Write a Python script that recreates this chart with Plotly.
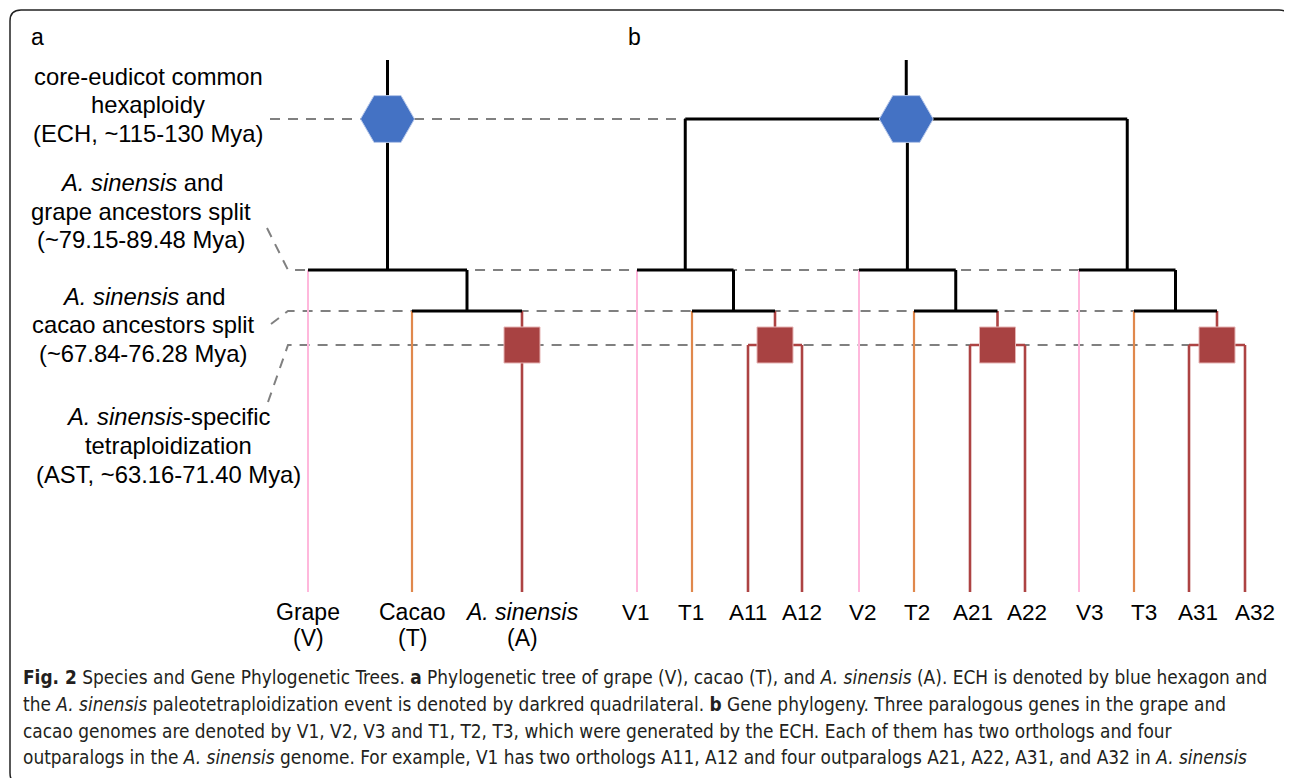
import plotly.graph_objects as go

# ---------------- data ----------------
# panel a: species leaves (x positions in layout px) and names
species_names = ["Grape", "Cacao", "<i>A. sinensis</i>"]
species_codes = ["(V)", "(T)", "(A)"]
species_x = [308, 412, 522]

# panel b: gene leaves
gene_names = ["V1", "T1", "A11", "A12", "V2", "T2", "A21", "A22", "V3", "T3", "A31", "A32"]
gene_x = [637, 692, 748, 802, 859, 914, 970, 1025, 1079, 1134, 1189, 1245]
gene_label_x = [636, 691, 748, 802, 863, 917, 973, 1027, 1090, 1144, 1198, 1255]

# event levels (vertical layout positions)
level_top = 60
level_ech = 119
level_split_grape = 270
level_split_cacao = 311
level_ast = 345
level_leaf = 592
level_leaf_label = 612

# event label texts (panel a, left side)
event_labels = [
    ["core-eudicot common", "hexaploidy", "(ECH, ~115-130 Mya)"],
    ["<i>A. sinensis</i> and", "grape ancestors split", "(~79.15-89.48 Mya)"],
    ["<i>A. sinensis</i> and", "cacao ancestors split", "(~67.84-76.28 Mya)"],
    ["<i>A. sinensis</i>-specific", "tetraploidization", "(AST, ~63.16-71.40 Mya)"],
]
event_label_x = [148, 141, 143, 168]
event_label_y = [[76, 104, 133], [182, 211, 239], [296, 324, 353], [416, 445, 474]]
# guide-line starting points (end of each label's leader)
guide_start = [(270, 119), (267, 228), (271, 324), (268, 402)]
guide_elbow_x = 288

caption_lines = [
    "<b>Fig. 2</b> Species and Gene Phylogenetic Trees. <b>a</b> Phylogenetic tree of grape (V), cacao (T), and <i>A. sinensis</i> (A). ECH is denoted by blue hexagon and",
    "the <i>A. sinensis</i> paleotetraploidization event is denoted by darkred quadrilateral. <b>b</b> Gene phylogeny. Three paralogous genes in the grape and",
    "cacao genomes are denoted by V1, V2, V3 and T1, T2, T3, which were generated by the ECH. Each of them has two orthologs and four",
    "outparalogs in the <i>A. sinensis</i> genome. For example, V1 has two orthologs A11, A12 and four outparalogs A21, A22, A31, and A32 in <i>A. sinensis</i>",
]
caption_y = [677, 704, 731, 757]

# ---------------- styles ----------------
BLACK = "#000000"
PINK = "#ffb8dc"
ORANGE = "#e0884c"
RED = "#ad4343"
SQRED = "#a84242"
BLUE = "#4472c4"
GRAY = "#808080"
FONT = "Liberation Sans, Arial, sans-serif"
PAGE_OFFSET = 8  # default body margin of the html page

segs = {BLACK: [], PINK: [], ORANGE: [], RED: []}


def seg(color, x0, y0, x1, y1):
    segs[color].append((x0, y0, x1, y1))


def mid(a, b):
    return (a + b) / 2.0


# ---- panel a tree ----
vx, tx, ax = species_x
at_node = mid(tx, ax)
root_a = mid(vx, at_node)
seg(BLACK, root_a, level_top, root_a, level_split_grape)
seg(BLACK, vx, level_split_grape, at_node, level_split_grape)
seg(PINK, vx, level_split_grape, vx, level_leaf)
seg(BLACK, at_node, level_split_grape, at_node, level_split_cacao)
seg(BLACK, tx, level_split_cacao, ax, level_split_cacao)
seg(ORANGE, tx, level_split_cacao, tx, level_leaf)
seg(RED, ax, level_split_cacao, ax, level_leaf)
squares = [(ax, level_ast)]
hexes = [(root_a, level_ech)]

# ---- panel b tree ----
sub_roots = []
for i in range(3):
    v, t, a1, a2 = gene_x[4 * i:4 * i + 4]
    a_node = mid(a1, a2)
    ta_node = mid(t, a_node)
    sub_root = mid(v, ta_node)
    sub_roots.append(sub_root)
    seg(BLACK, sub_root, level_ech, sub_root, level_split_grape)
    seg(BLACK, v, level_split_grape, ta_node, level_split_grape)
    seg(PINK, v, level_split_grape, v, level_leaf)
    seg(BLACK, ta_node, level_split_grape, ta_node, level_split_cacao)
    seg(BLACK, t, level_split_cacao, a_node, level_split_cacao)
    seg(ORANGE, t, level_split_cacao, t, level_leaf)
    seg(RED, a_node, level_split_cacao, a_node, level_ast)
    seg(RED, a1, level_ast, a2, level_ast)
    seg(RED, a1, level_ast, a1, level_leaf)
    seg(RED, a2, level_ast, a2, level_leaf)
    squares.append((a_node, level_ast))
root_b = mid(sub_roots[0], sub_roots[-1])
seg(BLACK, root_b, level_top, root_b, level_ech)
seg(BLACK, sub_roots[0], level_ech, sub_roots[-1], level_ech)
hexes.append((root_b, level_ech))

fig = go.Figure()

# ---- dashed guide lines (drawn first, underneath) ----
guide_levels = [level_ech, level_split_grape, level_split_cacao, level_ast]
guide_ends = [sub_roots[0], gene_x[8], gene_x[9], gene_x[10]]
gx, gy = [], []
for k, ((sx, sy), lvl, ex) in enumerate(zip(guide_start, guide_levels, guide_ends)):
    if k == 0:
        gx += [sx, ex, None]
        gy += [lvl, lvl, None]
    else:
        gx += [sx, guide_elbow_x, ex, None]
        gy += [sy, lvl, lvl, None]
fig.add_trace(go.Scatter(x=gx, y=gy, mode="lines",
                         line=dict(color=GRAY, width=2, dash="10px,8px"),
                         hoverinfo="skip", showlegend=False))

widths = {BLACK: 3, PINK: 2, ORANGE: 2.2, RED: 2.6}
for color in [PINK, ORANGE, RED, BLACK]:
    xs, ys = [], []
    for (x0, y0, x1, y1) in segs[color]:
        xs += [x0, x1, None]
        ys += [y0, y1, None]
    fig.add_trace(go.Scatter(x=xs, y=ys, mode="lines",
                             line=dict(color=color, width=widths[color]),
                             hoverinfo="skip", showlegend=False))

fig.add_trace(go.Scatter(x=[p[0] for p in squares], y=[p[1] for p in squares],
                         mode="markers",
                         marker=dict(symbol="square", size=36, color=SQRED,
                                     line=dict(color="#e6b4b4", width=1)),
                         hoverinfo="skip", showlegend=False))
fig.add_trace(go.Scatter(x=[p[0] for p in hexes], y=[p[1] for p in hexes],
                         mode="markers",
                         marker=dict(symbol="hexagon2", size=54, color=BLUE,
                                     line=dict(color="#b9c9ea", width=1)),
                         hoverinfo="skip", showlegend=False))

annotations = []


def txt(x, y, s, size=23.8, anchor="center", color="#000", family=FONT):
    annotations.append(dict(x=x, y=y, xref="x", yref="y", text=s, showarrow=False,
                            xanchor=anchor, yanchor="middle",
                            font=dict(family=family, size=size, color=color)))


txt(37, 37, "a", size=23)
txt(634, 37, "b", size=23)
for lines, lx, lys in zip(event_labels, event_label_x, event_label_y):
    for s, ly in zip(lines, lys):
        txt(lx, ly, s)

for name, code, x in zip(species_names, species_codes, species_x):
    txt(x, level_leaf_label, name, size=23)
    txt(x, level_leaf_label + 26, code, size=23)
for name, x in zip(gene_names, gene_label_x):
    txt(x, level_leaf_label, name, size=22.5)

for s, y in zip(caption_lines, caption_y):
    txt(21, y, s, size=18.9, anchor="left", color="#231f20",
        family="Liberation Sans Narrow, DejaVu Sans Condensed, Open Sans, sans-serif")

# rounded frame
r = 11
L, T, R, B = 10, 10, 1290, 784
frame = (f"M {L+r},{T} L {R-r},{T} Q {R},{T} {R},{T+r} L {R},{B-r} Q {R},{B} {R-r},{B} "
         f"L {L+r},{B} Q {L},{B} {L},{B-r} L {L},{T+r} Q {L},{T} {L+r},{T} Z")

W, H = 1292, 778
fig.update_layout(
    width=W - PAGE_OFFSET, height=H - PAGE_OFFSET,
    margin=dict(l=0, r=0, t=0, b=0),
    paper_bgcolor="white", plot_bgcolor="white",
    xaxis=dict(range=[PAGE_OFFSET, W], visible=False, fixedrange=True),
    yaxis=dict(range=[H, PAGE_OFFSET], visible=False, fixedrange=True),
    annotations=annotations,
    shapes=[dict(type="path", path=frame, xref="x", yref="y",
                 line=dict(color="#222", width=1.5), layer="below")],
    showlegend=False,
)

fig.write_html("out.html")
